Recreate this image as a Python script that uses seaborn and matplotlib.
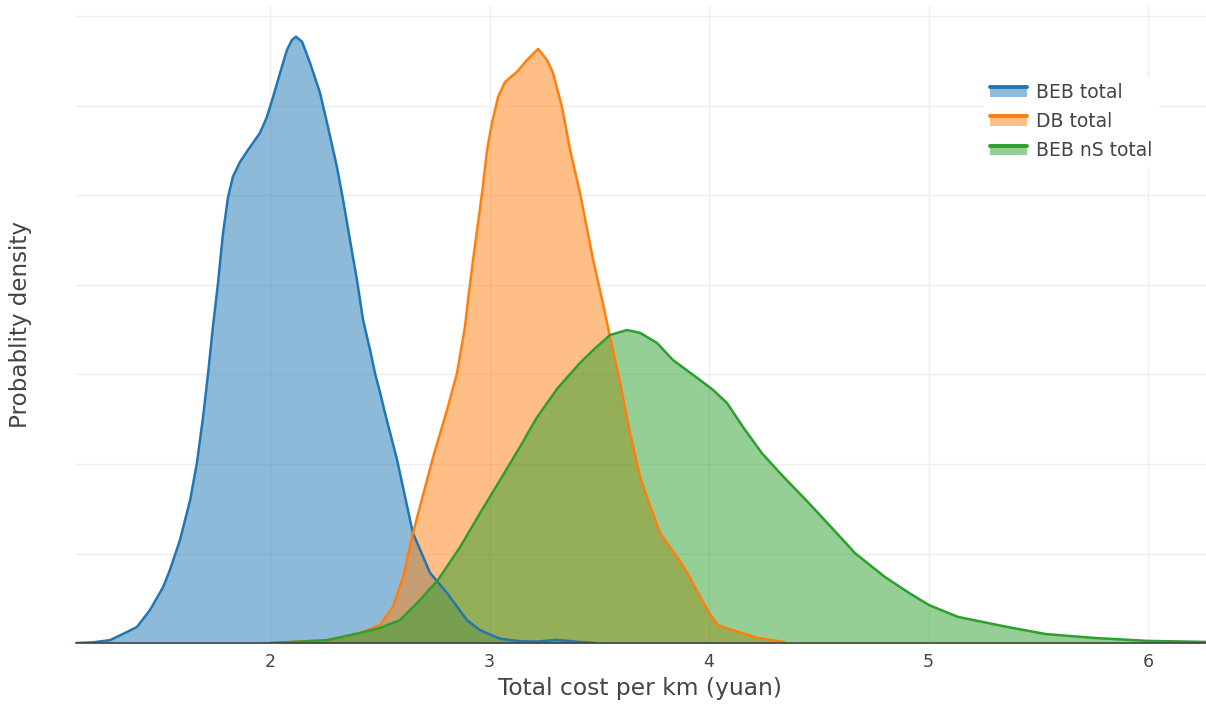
import numpy as np
import pandas as pd
import matplotlib
matplotlib.use("Agg")
import matplotlib.pyplot as plt
from matplotlib.colors import to_rgb
from matplotlib.patches import Patch, Rectangle
from matplotlib.lines import Line2D
from matplotlib.legend_handler import HandlerBase
import seaborn as sns

# Kernel density estimates of total cost per km (yuan)
beb_x = [1.116, 1.194, 1.271, 1.349, 1.394, 1.453, 1.513, 1.544, 1.590, 1.636,
         1.667, 1.695, 1.718, 1.740, 1.763, 1.786, 1.809, 1.831, 1.863, 1.900,
         1.954, 1.986, 2.014, 2.046, 2.077, 2.100, 2.118, 2.146, 2.182, 2.228,
         2.264, 2.305, 2.333, 2.364, 2.396, 2.424, 2.456, 2.478, 2.501, 2.524,
         2.579, 2.651, 2.729, 2.806, 2.897, 2.957, 3.048, 3.139, 3.215, 3.307,
         3.390, 3.481]
beb_y = [0.000, 0.002, 0.008, 0.031, 0.045, 0.092, 0.156, 0.204, 0.288, 0.399,
         0.503, 0.631, 0.754, 0.883, 1.005, 1.145, 1.246, 1.302, 1.343, 1.377,
         1.424, 1.469, 1.525, 1.592, 1.656, 1.684, 1.693, 1.679, 1.620, 1.536,
         1.441, 1.329, 1.237, 1.126, 1.014, 0.902, 0.818, 0.754, 0.700, 0.642,
         0.511, 0.307, 0.196, 0.140, 0.064, 0.036, 0.012, 0.005, 0.004, 0.009,
         0.004, 0.000]

db_x = [2.000, 2.260, 2.410, 2.501, 2.560, 2.606, 2.651, 2.743, 2.806, 2.852,
        2.888, 2.902, 2.925, 2.966, 2.989, 3.011, 3.039, 3.071, 3.125, 3.171,
        3.221, 3.262, 3.289, 3.330, 3.367, 3.412, 3.472, 3.513, 3.549, 3.595,
        3.640, 3.686, 3.722, 3.777, 3.886, 4.000, 4.041, 4.109, 4.223, 4.342]
db_y = [0.000, 0.008, 0.028, 0.050, 0.101, 0.184, 0.307, 0.519, 0.650, 0.754,
        0.883, 0.958, 1.070, 1.257, 1.377, 1.452, 1.525, 1.567, 1.595, 1.628,
        1.659, 1.628, 1.592, 1.497, 1.377, 1.257, 1.070, 0.958, 0.855, 0.726,
        0.587, 0.464, 0.399, 0.307, 0.212, 0.084, 0.050, 0.036, 0.014, 0.003]

bebns_x = [2.000, 2.260, 2.410, 2.501, 2.592, 2.683, 2.765, 2.866, 2.957, 3.048,
           3.139, 3.216, 3.308, 3.412, 3.472, 3.549, 3.626, 3.686, 3.763, 3.836,
           3.927, 4.018, 4.082, 4.155, 4.241, 4.333, 4.442, 4.556, 4.665, 4.802,
           4.911, 5.002, 5.134, 5.358, 5.535, 5.759, 6.000, 6.264]
bebns_y = [0.000, 0.008, 0.028, 0.042, 0.064, 0.120, 0.176, 0.268, 0.363, 0.455,
           0.548, 0.630, 0.710, 0.782, 0.818, 0.860, 0.874, 0.866, 0.838, 0.790,
           0.749, 0.707, 0.670, 0.603, 0.530, 0.468, 0.399, 0.324, 0.251, 0.184,
           0.140, 0.106, 0.073, 0.045, 0.025, 0.014, 0.006, 0.003]

series_names = ["BEB total", "DB total", "BEB nS total"]
line_colors = ["#1f77b4", "#ff7f0e", "#2ca02c"]

frames = []
for name, xs, ys in zip(series_names,
                        [beb_x, db_x, bebns_x],
                        [beb_y, db_y, bebns_y]):
    frames.append(pd.DataFrame({"cost": xs, "density": ys, "series": name}))
df = pd.concat(frames, ignore_index=True)

sns.set_theme(style="whitegrid")
plt.rcParams["font.family"] = ["DejaVu Sans"]

fig = plt.figure(figsize=(12.06, 7.04), dpi=100)
ax = fig.add_axes([0.063, 0.0866, 0.937, 0.905])

# Each trace: half-transparent fill to zero, then its outline on top
for name, color in zip(series_names, line_colors):
    sub = df[df["series"] == name]
    ax.fill_between(sub["cost"], 0, sub["density"], color=color, alpha=0.5,
                    linewidth=0, zorder=2)
    sns.lineplot(data=sub, x="cost", y="density", color=color, lw=1.8,
                 ax=ax, zorder=3, legend=False, sort=False)

ax.set_xlim(1.116, 6.264)
ax.set_ylim(0, 1.779)
ax.set_xticks([2, 3, 4, 5, 6])
ax.set_yticks(np.arange(0, 1.76, 0.25))
ax.set_yticklabels([])
ax.tick_params(axis="x", labelsize=12.5, colors="#444444", length=0, pad=7)
ax.tick_params(axis="y", length=0)
ax.grid(True, color="#eeeeee", linewidth=1)
ax.set_facecolor("white")
for side in ["top", "right", "left"]:
    ax.spines[side].set_visible(False)
ax.spines["bottom"].set_color("#444444")
ax.spines["bottom"].set_linewidth(1.2)
ax.spines["bottom"].set_zorder(4)

ax.set_xlabel("Total cost per km (yuan)", fontsize=16.8, color="#444444")
ax.set_ylabel("Probablity density", fontsize=16.6, color="#444444")
ax.xaxis.set_label_coords(0.499, -0.054)
ax.yaxis.set_label_coords(-0.039, 0.5)


class FillLineHandler(HandlerBase):
    """Legend key: filled block with the trace line along its top edge."""

    def create_artists(self, legend, orig_handle, xdescent, ydescent,
                       width, height, fontsize, trans):
        fill = orig_handle.get_facecolor()
        edge = orig_handle.get_edgecolor()
        x0, y0 = -xdescent, -ydescent
        top = y0 + height * 0.8
        bottom = y0 + height * 0.1
        rect = Rectangle((x0, bottom), width, top - bottom,
                         facecolor=fill, edgecolor="none", transform=trans)
        line = Line2D([x0, x0 + width], [top, top], color=edge, lw=2.8,
                      transform=trans)
        return [rect, line]


handles = [Patch(facecolor=tuple(0.5 + 0.5 * np.array(to_rgb(c))), edgecolor=c)
           for c in line_colors]
leg = ax.legend(handles, series_names, loc="upper left",
                bbox_to_anchor=(0.7955, 0.903), frameon=True, fontsize=13.5,
                handlelength=2.0, handleheight=0.75, labelspacing=0.55,
                borderpad=0.3, handletextpad=0.45,
                handler_map={Patch: FillLineHandler()})
leg.get_frame().set_facecolor("white")
leg.get_frame().set_edgecolor("white")
leg.get_frame().set_alpha(1)
leg.get_frame().set_boxstyle("square", pad=0)
for t in leg.get_texts():
    t.set_color("#444444")

fig.savefig("out.png", dpi=100)
